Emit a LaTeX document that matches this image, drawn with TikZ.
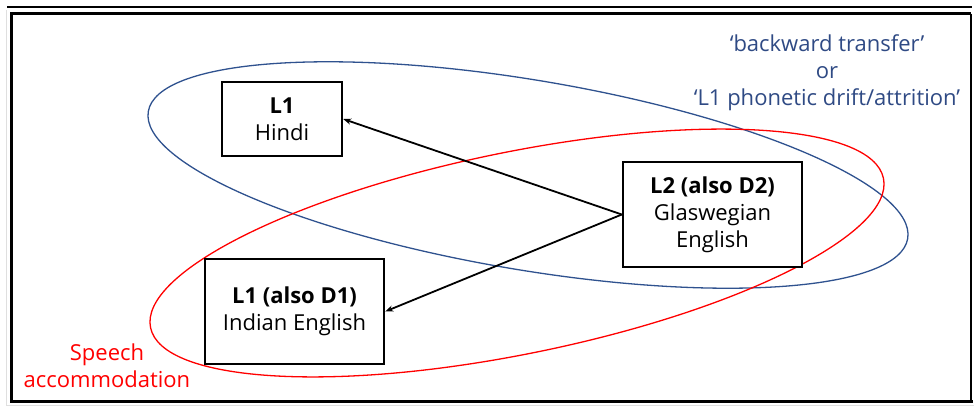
\documentclass[tikz,border=0pt]{standalone}
\usepackage{fontspec}
\setmainfont{Open Sans}
\usetikzlibrary{arrows.meta}
\definecolor{ovalblue}{HTML}{2F528F}
\definecolor{labelblue}{HTML}{2F4A84}
\definecolor{ovalred}{HTML}{FF0000}
\begin{document}
\begin{tikzpicture}[x=1pt,y=-1pt,
  every node/.style={font=\fontsize{22}{27}\selectfont, align=center, inner sep=0pt},
  langbox/.style={draw=black, line width=2.4pt, fill=white},
  link/.style={draw=black, line width=1.8pt, -{Stealth[length=8pt,width=6pt]}},
  oval/.style={line width=1.3pt}
]
\useasboundingbox (0,0) rectangle (974,407);

% outer frame
\draw[gray!25, line width=0.8pt] (6,10) -- (6,405.5) -- (974,405.5);
\draw[black, line width=1.2pt] (7,7) -- (972,7);
\draw[black, line width=3.2pt] (11.5,402) -- (11.5,13.5) -- (971,13.5);
\draw[black, line width=1.4pt] (971,13.5) -- (971,401);
\draw[black, line width=3.2pt] (10,401.5) -- (973,401.5);

% the two overlapping ovals
\draw[oval, ovalblue] (528,175) ellipse [x radius=385pt, y radius=95pt, rotate=-9.5];
\draw[oval, ovalred] (517,253) ellipse [x radius=374pt, y radius=101pt, rotate=11.5];

% language boxes
\node[langbox, minimum width=120pt, minimum height=74pt] (hindi) at (282,119)
  {\textbf{L1}\\Hindi};
\node[langbox, minimum width=179pt, minimum height=105pt] (glas) at (712.5,214.5)
  {\textbf{L2 (also D2)}\\Glaswegian\\English};
\node[langbox, minimum width=179pt, minimum height=105pt] (indeng) at (294.5,311.5)
  {\textbf{L1 (also D1)}\\Indian English};

% influence arrows
\draw[link] (glas.west) -- (hindi.east);
\draw[link] (glas.west) -- (indeng.east);

% oval labels
\node[text=labelblue] (backlbl) at (827,73)
  {‘backward transfer’\\or\\‘L1 phonetic drift/attrition’};
\node[text=ovalred] (acclbl) at (107,366)
  {Speech\\accommodation};
\end{tikzpicture}
\end{document}
